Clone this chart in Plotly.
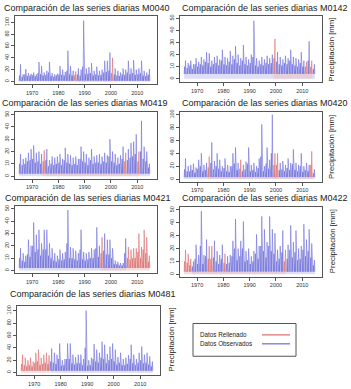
import plotly.graph_objects as go

# ---------------- data ----------------
years = list(range(1966, 2016))
stations = ["M0040", "M0142", "M0419", "M0420", "M0421", "M0422", "M0481"]

peaks_M0040 = [29, 12, 21, 14, 13, 15, 12, 33, 26, 15, 18, 33, 14, 12, 13, 26, 20, 16, 52, 26,
               18, 17, 22, 20, 103, 22, 24, 31, 18, 25, 18, 20, 35, 35, 49, 40, 22, 18, 15, 22,
               20, 35, 22, 36, 20, 22, 35, 18, 15, 21]
sec_M0040 = [10, 8, 12, 9, 10, 11, 9, 14, 12, 10, 11, 15, 9, 8, 10, 12, 11, 10, 18, 12,
             10, 11, 12, 10, 25, 12, 13, 14, 10, 12, 10, 11, 15, 16, 18, 14, 12, 10, 9, 12,
             11, 15, 12, 14, 11, 12, 14, 10, 9, 11]

peaks_M0142 = [15, 13, 15, 12, 17, 14, 18, 16, 22, 21, 15, 18, 19, 16, 24, 18, 17, 23, 19, 27,
               20, 17, 28, 18, 16, 20, 48, 17, 15, 18, 16, 19, 17, 20, 33, 22, 18, 16, 19, 17,
               24, 18, 17, 16, 22, 15, 14, 31, 15, 12]
sec_M0142 = [10, 9, 11, 8, 12, 10, 12, 11, 14, 13, 10, 12, 13, 11, 15, 12, 11, 14, 12, 16,
             13, 11, 15, 12, 11, 13, 18, 11, 10, 12, 11, 13, 12, 13, 17, 14, 12, 11, 13, 12,
             15, 12, 11, 10, 13, 10, 10, 15, 10, 8]

peaks_M0419 = [18, 14, 15, 19, 22, 25, 19, 20, 18, 21, 22, 13, 16, 15, 16, 18, 14, 23, 18, 17,
               15, 16, 14, 24, 20, 18, 15, 22, 16, 17, 18, 16, 19, 17, 30, 20, 18, 15, 17, 24,
               19, 22, 27, 28, 34, 20, 45, 24, 20, 10]
sec_M0419 = [10, 9, 10, 12, 13, 14, 11, 12, 10, 12, 13, 8, 10, 9, 10, 11, 9, 13, 11, 10,
             9, 10, 9, 14, 12, 11, 9, 13, 10, 11, 11, 10, 12, 11, 16, 12, 11, 9, 10, 14,
             12, 13, 15, 16, 18, 12, 20, 14, 12, 7]

peaks_M0420 = [32, 20, 22, 24, 18, 30, 40, 22, 25, 35, 57, 28, 40, 30, 20, 32, 22, 20, 40, 49,
               25, 30, 22, 27, 49, 22, 25, 20, 32, 85, 20, 49, 30, 100, 40, 40, 25, 28, 22, 32,
               25, 46, 25, 22, 40, 20, 25, 22, 43, 15]
sec_M0420 = [15, 12, 12, 14, 10, 16, 20, 12, 14, 18, 25, 15, 20, 16, 12, 17, 12, 11, 20, 24,
             14, 16, 12, 15, 24, 12, 14, 11, 17, 35, 12, 24, 16, 40, 22, 22, 14, 15, 12, 17,
             14, 23, 14, 12, 20, 11, 14, 12, 22, 9]

peaks_M0421 = [18, 14, 12, 25, 20, 39, 29, 33, 22, 33, 33, 22, 18, 14, 12, 17, 14, 15, 49, 19,
               18, 16, 14, 33, 15, 14, 15, 18, 17, 35, 20, 27, 30, 25, 25, 18, 8, 7, 6, 6,
               26, 19, 17, 18, 18, 30, 19, 33, 27, 12]
sec_M0421 = [10, 8, 7, 13, 11, 20, 15, 17, 12, 17, 17, 12, 10, 8, 7, 9, 8, 9, 22, 10,
             10, 9, 8, 17, 9, 8, 9, 10, 10, 18, 11, 14, 16, 13, 13, 10, 5, 5, 4, 4,
             14, 10, 9, 10, 10, 15, 10, 17, 14, 7]

peaks_M0422 = [19, 16, 12, 10, 23, 15, 49, 15, 27, 22, 22, 26, 18, 15, 23, 16, 14, 15, 26, 43,
               20, 26, 41, 18, 20, 14, 18, 31, 22, 45, 35, 25, 45, 35, 32, 19, 22, 34, 19, 23,
               38, 25, 34, 20, 22, 39, 27, 35, 24, 11]
sec_M0422 = [10, 9, 7, 6, 12, 8, 22, 8, 14, 12, 12, 13, 10, 8, 12, 9, 8, 9, 14, 20,
             11, 14, 20, 10, 11, 8, 10, 16, 12, 22, 18, 13, 22, 18, 16, 10, 12, 17, 10, 12,
             19, 13, 17, 11, 12, 19, 14, 18, 13, 7]

peaks_M0481 = [29, 24, 20, 24, 18, 32, 37, 24, 29, 32, 28, 39, 32, 29, 47, 20, 22, 47, 47, 29,
               25, 29, 29, 22, 100, 20, 24, 46, 37, 32, 50, 45, 30, 42, 47, 37, 25, 32, 22, 24,
               28, 45, 29, 22, 32, 42, 29, 32, 26, 18]
sec_M0481 = [14, 12, 10, 12, 10, 16, 18, 12, 14, 16, 14, 18, 16, 14, 22, 11, 12, 22, 22, 15,
             13, 15, 15, 12, 40, 11, 12, 22, 18, 16, 24, 22, 15, 20, 22, 18, 13, 16, 12, 12,
             14, 22, 15, 12, 16, 20, 15, 16, 13, 10]

base_vals = [1, 4, 2, 3, 2, 2, 3]

rell_M0040 = [1987, 2001]
rell_M0142 = [2000, 2012, 2014]
rell_M0419 = [1975, 2006, 2011]
rell_M0420 = [1975, 1987, 2000, 2001, 2014]
rell_M0421 = [1997, 2007, 2008, 2009, 2010, 2011, 2012, 2013, 2014, 2015]
rell_M0422 = [1966, 1967, 1968, 1975, 1976, 1981, 2004]
rell_M0481 = [1966, 1967, 1968, 1969, 1970, 1971, 1972, 1973, 1974, 1975, 1976]

x_ticks = [1970, 1980, 1990, 2000, 2010]
legend_labels = ["Datos Rellenado", "Datos Observados"]
title_prefix = "Comparación de las series diarias "
y_label = "Precipitación [mm]"

peaks = [peaks_M0040, peaks_M0142, peaks_M0419, peaks_M0420, peaks_M0421, peaks_M0422, peaks_M0481]
secs = [sec_M0040, sec_M0142, sec_M0419, sec_M0420, sec_M0421, sec_M0422, sec_M0481]
rells = [rell_M0040, rell_M0142, rell_M0419, rell_M0420, rell_M0421, rell_M0422, rell_M0481]

# ---------------- layout geometry (pixels) ----------------
W, H = 351, 389
boxes = [  # x0, x1, y0, y1 (top-down pixels)
    (15, 157, 13, 82),
    (180, 322, 13, 80),
    (15, 157, 110, 177),
    (180, 322, 110, 180),
    (15, 157, 205, 272),
    (180, 322, 206, 276),
    (17, 160, 305, 375),
]
yranges = [(-5, 111), (-3, 52), (-2, 52), (-4, 104), (-2, 52), (-2, 52), (-4, 108)]
ydticks = [20, 10, 10, 20, 10, 10, 20]
title_left = [2, 180, 0, 180, 3, 180, 8]
title_y = [5, 5, 101, 101, 197, 197, 293]
ylab_pos = [None, (332, 47), None, (332, 145), None, (332, 240), (171, 339)]

BLUE = "rgba(80,80,210,0.9)"
BLUE_FILL = "rgba(200,200,240,0.6)"
RED = "rgba(210,80,80,0.9)"
RED_FILL = "rgba(238,195,195,0.55)"
FONT = "Liberation Sans, Arial, sans-serif"


def build(pk, sc, base, rell, want_red):
    xs, ys = [], []
    for yr, p, s in zip(years, pk, sc):
        if (yr in rell) != want_red:
            xs.append(None)
            ys.append(None)
            continue
        for off, v in ((-0.95, base), (-0.78, s), (-0.6, base), (-0.4, p), (-0.2, base)):
            xs.append(yr + off)
            ys.append(v)
    return xs, ys


fig = go.Figure()
layout = dict(
    width=W, height=H, margin=dict(l=0, r=0, t=0, b=0),
    paper_bgcolor="white", plot_bgcolor="white", showlegend=False,
    font=dict(family=FONT, color="#222"),
)
annotations = []
shapes = []

for i, st in enumerate(stations):
    n = "" if i == 0 else str(i + 1)
    x0, x1, y0, y1 = boxes[i]
    for want_red in (False, True):
        xs, ys = build(peaks[i], secs[i], base_vals[i], rells[i], want_red)
        fig.add_trace(go.Scatter(
            x=xs, y=ys, mode="lines", xaxis="x" + n, yaxis="y" + n,
            line=dict(color=RED if want_red else BLUE, width=0.5),
            fill="tozeroy", fillcolor=RED_FILL if want_red else BLUE_FILL,
            connectgaps=False, hoverinfo="skip",
            name=legend_labels[0] if want_red else legend_labels[1],
        ))
    axcommon = dict(showline=True, mirror=True, linecolor="#555", linewidth=1,
                    showgrid=False, zeroline=False, ticks="outside", ticklen=3,
                    tickcolor="#555", tickfont=dict(size=5.5, color="#333", family=FONT))
    layout["xaxis" + n] = dict(axcommon, domain=[x0 / W, x1 / W], range=[1963.5, 2017.5],
                               tickvals=x_ticks, anchor="y" + n, fixedrange=True)
    layout["yaxis" + n] = dict(axcommon, domain=[1 - y1 / H, 1 - y0 / H], range=list(yranges[i]),
                               dtick=ydticks[i], tick0=0, tickangle=-90, anchor="x" + n,
                               fixedrange=True)
    annotations.append(dict(text=title_prefix + st, x=title_left[i] / W, y=1 - title_y[i] / H,
                            xref="paper", yref="paper", xanchor="left", yanchor="middle",
                            showarrow=False, font=dict(size=9, color="#222", family=FONT)))
    if ylab_pos[i]:
        lx, ly = ylab_pos[i]
        annotations.append(dict(text=y_label, x=lx / W, y=1 - ly / H, xref="paper", yref="paper",
                                xanchor="center", yanchor="middle", showarrow=False, textangle=-90,
                                font=dict(size=7.8, color="#222", family=FONT)))

# legend box (drawn by hand: text left, line sample right)
shapes.append(dict(type="rect", xref="paper", yref="paper", x0=193 / W, x1=296 / W,
                   y0=1 - 356 / H, y1=1 - 323 / H, line=dict(color="#555", width=1)))
for lab, col, ly in zip(legend_labels, ["rgb(210,80,80)", "rgb(80,80,210)"], [334.5, 343.5]):
    annotations.append(dict(text=lab, x=198 / W, y=1 - ly / H, xref="paper", yref="paper",
                            xanchor="left", yanchor="middle", showarrow=False,
                            font=dict(size=6.3, color="#222", family=FONT)))
    shapes.append(dict(type="line", xref="paper", yref="paper", x0=262 / W, x1=290 / W,
                       y0=1 - ly / H, y1=1 - ly / H, line=dict(color=col, width=1)))

layout["annotations"] = annotations
layout["shapes"] = shapes
fig.update_layout(**layout)
fig.write_html("out.html", config={"displayModeBar": False, "staticPlot": True},
               post_script="document.body.style.margin='0';document.body.style.overflow='hidden';")
